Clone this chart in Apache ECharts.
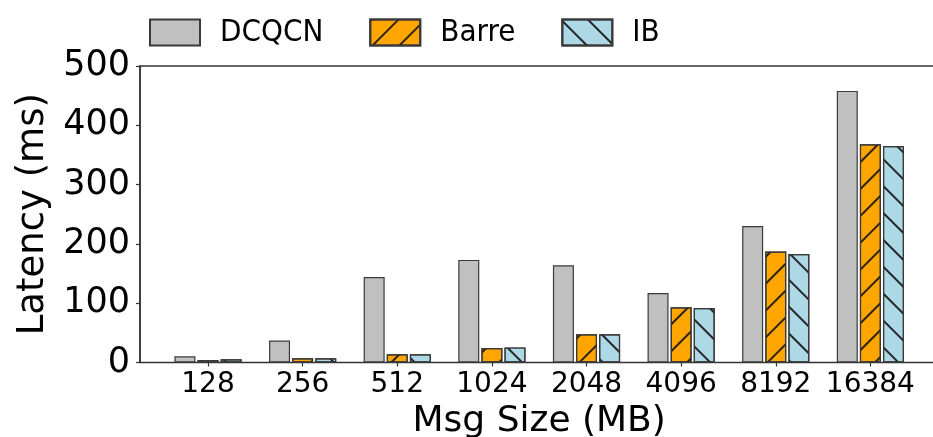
<!DOCTYPE html>
<html>
<head>
<meta charset="utf-8">
<script src="https://cdn.jsdelivr.net/npm/echarts@6/dist/echarts.min.js"></script>
<style>
html,body{margin:0;padding:0;background:#fff;}
#chart{width:933px;height:437px;}
</style>
</head>
<body>
<div id="chart"></div>
<script>
const categories = ['128', '256', '512', '1024', '2048', '4096', '8192', '16384'];
const dcqcn = [10.5, 37, 144, 173, 164, 117, 230, 458];
const barre = [4.2, 7, 14, 24.5, 47.5, 93, 187, 368];
const ib = [5.4, 7, 14, 25.5, 47.5, 92, 183, 365];
const yTicks = [0, 100, 200, 300, 400, 500];

const FONT = 'DejaVu Sans';
const EDGE = '#3a3a3a';

function hatch(rot) {
  return {
    symbol: 'rect',
    symbolSize: 1,
    color: 'rgba(20,20,20,0.9)',
    dashArrayX: [1, 0],
    dashArrayY: [1.3, 17],
    rotation: rot
  };
}

const chart = echarts.init(document.getElementById('chart'), null, {renderer: 'canvas'});
chart.setOption({
  backgroundColor: '#fff',
  animation: false,
  legend: {
    left: 149,
    top: 17,
    padding: 0,
    icon: 'rect',
    itemWidth: 50,
    itemHeight: 26,
    itemGap: 46,
    data: ['DCQCN', 'Barre', 'IB'],
    textStyle: {
      fontFamily: "'Liberation Sans Narrow', 'DejaVu Sans Condensed', 'DejaVu Sans'",
      fontSize: 31,
      color: '#000',
      lineHeight: 26,
      padding: [0, 0, 0, 15]
    }
  },
  grid: [
    {left: 160.7, right: 15.3, top: 66, bottom: 74.5, outerBoundsMode: 'none', containLabel: false},
    {left: 140, right: -6, top: 66, bottom: 74.5, outerBoundsMode: 'none', containLabel: false, show: true, borderColor: '#333', borderWidth: 1.5, backgroundColor: 'transparent'}
  ],
  xAxis: [
    {
      type: 'category', gridIndex: 0, data: categories,
      axisLine: {show: false},
      axisTick: {show: true, alignWithLabel: true, length: 4, lineStyle: {color: '#333', width: 1.2}},
      axisLabel: {interval: 0, fontFamily: FONT, fontSize: 28, color: '#000', margin: 8},
      name: 'Msg Size (MB)', nameLocation: 'middle', nameGap: 37,
      nameTextStyle: {fontFamily: FONT, fontSize: 36, color: '#000'}
    },
    {
      type: 'value', gridIndex: 1, show: false, min: 0, max: 1
    }
  ],
  yAxis: [
    {type: 'value', gridIndex: 0, min: 0, max: 500, interval: 100, show: false},
    {
      type: 'value', gridIndex: 1, min: yTicks[0], max: yTicks[yTicks.length - 1], interval: 100,
      axisLine: {show: true, lineStyle: {color: '#333', width: 1.5}},
      axisTick: {show: true, length: 4, lineStyle: {color: '#333', width: 1.2}},
      splitLine: {show: false},
      axisLabel: {fontFamily: FONT, fontSize: 35, color: '#000', margin: 10},
      name: 'Latency (ms)', nameLocation: 'middle', nameGap: 82, nameRotate: 90,
      nameTextStyle: {fontFamily: FONT, fontSize: 37, color: '#000'}
    }
  ],
  series: [
    {
      name: 'DCQCN', type: 'bar', xAxisIndex: 0, yAxisIndex: 0, data: dcqcn,
      barWidth: 21, barGap: '10%',
      itemStyle: {color: '#c0c0c0', borderColor: EDGE, borderWidth: 1.2}
    },
    {
      name: 'Barre', type: 'bar', xAxisIndex: 0, yAxisIndex: 0, data: barre,
      barWidth: 21, barGap: '10%',
      itemStyle: {color: '#ffa500', borderColor: EDGE, borderWidth: 1.2, decal: hatch(-Math.PI / 4)}
    },
    {
      name: 'IB', type: 'bar', xAxisIndex: 0, yAxisIndex: 0, data: ib,
      barWidth: 21, barGap: '10%',
      itemStyle: {color: '#add8e6', borderColor: EDGE, borderWidth: 1.2, decal: hatch(Math.PI / 4)}
    }
  ]
});
</script>
</body>
</html>
